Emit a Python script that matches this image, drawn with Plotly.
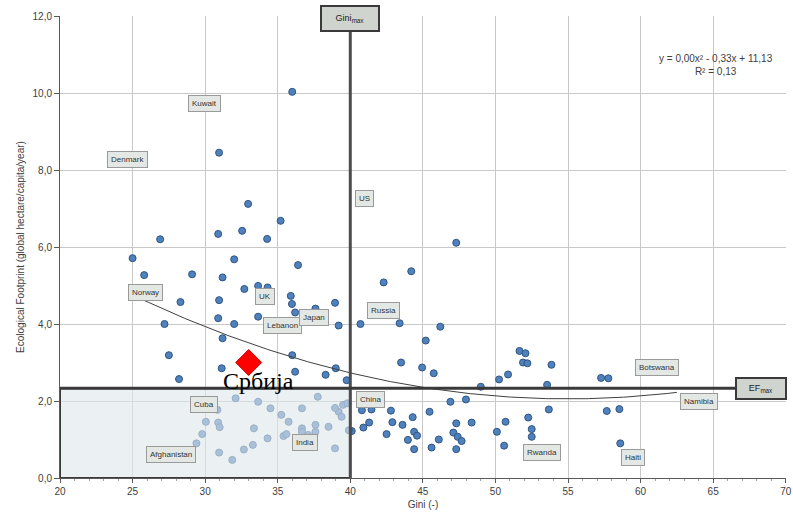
import numpy as np
import plotly.graph_objects as go

# Countries: Gini index vs. ecological footprint (gha/capita/year)
gini = [25.0, 25.8, 26.9, 27.2, 27.5, 28.3, 28.2, 29.1, 30.9, 30.96, 36.0, 32.96, 35.2, 32.55,
        34.27, 32.0, 36.4, 31.2, 32.7, 33.65, 34.3, 35.9, 35.98, 36.2, 38.95, 37.6, 30.96, 30.9,
        32.0, 33.65, 39.2, 31.2, 47.3, 44.2, 42.3, 40.7, 43.4, 46.2, 45.2, 43.5, 44.95, 45.75,
        51.66, 52.07, 51.9, 52.2, 53.86, 50.87, 50.25, 53.56, 57.28, 57.78, 53.68, 57.67, 58.54,
        50.7, 52.26, 52.5, 52.5, 50.6, 50.1, 58.6, 39.75, 48.99, 46.9, 47.97, 40.8, 41.46, 42.8,
        45.46, 40.1, 40.9, 41.3, 42.5, 42.9, 43.6, 44.3, 44.4, 44.6, 43.97, 44.4, 45.6, 46.1,
        47.3, 47.1, 47.4, 47.67, 47.3, 48.36, 31.14, 36.0, 36.2, 38.3, 39.0, 32.1, 33.65, 34.5,
        35.25, 35.75, 36.67, 37.76, 39.5, 39.2, 39.4, 38.5, 37.6, 36.67, 37.1, 35.4, 34.3, 33.36,
        33.29, 32.67, 31.87, 30.96, 30.9, 31.0, 30.05, 29.8, 29.4, 30.85, 38.95, 39.8, 38.95,
        37.6, 36.67, 35.6, 39.9]
footprint = [5.71, 5.27, 6.2, 4.0, 3.19, 4.57, 2.57, 5.29, 6.34, 8.45, 10.03, 7.12, 6.68, 6.42,
             6.21, 5.68, 5.53, 5.21, 4.91, 4.99, 4.95, 4.73, 4.52, 4.30, 4.55, 4.4, 4.62, 4.15,
             4.0, 4.19, 3.96, 3.63, 6.11, 5.37, 5.08, 4.0, 4.02, 3.93, 3.57, 3.0, 2.87, 2.72,
             3.30, 3.24, 3.0, 2.98, 2.94, 2.69, 2.56, 2.42, 2.60, 2.59, 1.78, 1.74, 1.79,
             1.46, 1.57, 1.27, 1.07, 0.84, 1.2, 0.9, 2.54, 2.37, 1.98, 2.04, 1.76, 1.78, 1.75,
             1.72, 1.22, 1.31, 1.44, 1.14, 1.45, 1.38, 1.58, 1.2, 1.10, 0.99, 0.75, 0.79, 1.0,
             1.42, 1.18, 1.07, 0.96, 0.75, 1.44, 2.85, 3.19, 2.76, 2.68, 2.85, 2.07, 1.98, 1.81,
             1.64, 1.46, 1.81, 2.11, 1.9, 1.72, 1.59, 1.33, 1.38, 1.29, 1.12, 1.09, 1.03, 1.29,
             0.86, 0.74, 0.47, 0.66, 1.44, 1.32, 1.46, 1.14, 0.9, 1.77, 0.77, 1.94, 1.82,
             1.2, 1.2, 1.14, 1.24]

serbia_name = "Србија"
serbia_gini = 33.0
serbia_ef = 3.0

# Thresholds
gini_max = 40.0
ef_max = 2.33

# Quadratic trend (coefficients of the fitted trendline)
trend_a, trend_b, trend_c = 0.003, -0.33, 11.13
trend_range = (25.8, 62.5)
equation_text = "y = 0,00x² - 0,33x + 11,13<br>R² = 0,13"

# Labelled countries
label_names = ["Denmark", "Kuwait", "US", "Norway", "UK", "Lebanon", "Japan", "Russia",
               "Botswana", "Namibia", "Cuba", "China", "Afghanistan", "India", "Rwanda", "Haiti"]
label_x = [24.66, 29.93, 40.96, 25.9, 34.1, 35.34, 37.47, 42.26,
           61.16, 64.04, 29.93, 41.37, 27.67, 36.85, 53.2, 59.45]
label_y = [8.26, 9.73, 7.25, 4.83, 4.72, 3.95, 4.18, 4.36,
           2.86, 2.0, 1.92, 2.03, 0.6, 0.91, 0.67, 0.52]

x_ticks = [20, 25, 30, 35, 40, 45, 50, 55, 60, 65, 70]
y_ticks = [0, 2, 4, 6, 8, 10, 12]
y_ticklabels = [f"{v:.1f}".replace(".", ",") for v in y_ticks]

FONT = "Liberation Sans"
AXIS_COLOR = "#595959"
GRID_COLOR = "#c9c9c9"

fig = go.Figure()

fig.add_trace(go.Scatter(
    x=gini, y=footprint, mode="markers",
    marker=dict(size=7, color="#4f81bd", line=dict(color="#2f5583", width=1)),
    hoverinfo="x+y", showlegend=False))

tx = np.linspace(trend_range[0], trend_range[1], 200)
ty = trend_a * tx ** 2 + trend_b * tx + trend_c
fig.add_trace(go.Scatter(x=tx, y=ty, mode="lines",
                         line=dict(color="#404040", width=1), showlegend=False,
                         hoverinfo="skip"))

fig.add_trace(go.Scatter(
    x=[serbia_gini], y=[serbia_ef], mode="markers",
    marker=dict(symbol="diamond", size=20, color="#ff0000", line=dict(color="#cc0000", width=1)),
    showlegend=False))

# Zone below both thresholds
fig.add_shape(type="rect", x0=20, x1=gini_max, y0=0, y1=ef_max, xref="x", yref="y",
              fillcolor="rgba(222,230,236,0.62)", line=dict(color="#3a3a3a", width=2),
              layer="above")
# Gini max line
fig.add_shape(type="line", x0=gini_max, x1=gini_max, y0=0, y1=1.02, xref="x", yref="paper",
              line=dict(color="#4d4d4d", width=3), layer="above")
# EF max line, running out to its label box at the right
fig.add_shape(type="line", x0=0, x1=0.965, y0=ef_max, y1=ef_max, xref="paper", yref="y",
              line=dict(color="#3a3a3a", width=3), layer="above")

annotations = []
for name, lx, ly in zip(label_names, label_x, label_y):
    annotations.append(dict(
        x=lx, y=ly, xref="x", yref="y", text=name, showarrow=False,
        font=dict(family=FONT, size=8, color="#333333"),
        bgcolor="#e4e8e4", bordercolor="#9a9a9a", borderwidth=1, borderpad=3))

annotations.append(dict(
    x=gini_max, y=(478 - 19) / 462, xref="x", yref="paper", text="Gini<sub>max</sub>",
    showarrow=False, font=dict(family=FONT, size=9, color="#222222"),
    xanchor="center", yanchor="middle", width=54, height=21,
    bgcolor="#cfd4cf", bordercolor="#3a3a3a", borderwidth=2, borderpad=1))
annotations.append(dict(
    x=0.965, y=ef_max, xref="paper", yref="y", text="EF<sub>max</sub>",
    showarrow=False, font=dict(family=FONT, size=9, color="#222222"),
    xanchor="center", yanchor="middle", width=46, height=17,
    bgcolor="#cfd4cf", bordercolor="#3a3a3a", borderwidth=2, borderpad=1))
annotations.append(dict(
    x=serbia_gini + 0.7, y=serbia_ef - 0.47, xref="x", yref="y", text=serbia_name,
    showarrow=False, font=dict(family="Liberation Serif", size=24, color="#000000")))
annotations.append(dict(
    x=65.2, y=10.73, xref="x", yref="y", text=equation_text, showarrow=False,
    align="center", font=dict(family=FONT, size=10, color="#404040")))

fig.update_layout(
    width=793, height=519,
    margin=dict(l=60, r=7, t=16, b=41),
    paper_bgcolor="white", plot_bgcolor="white",
    font=dict(family=FONT, size=10, color="#404040"),
    annotations=annotations,
    xaxis=dict(range=[20, 70.02], tickvals=x_ticks, ticktext=[str(v) for v in x_ticks],
               showgrid=True, gridcolor=GRID_COLOR, gridwidth=1,
               showline=True, linecolor=AXIS_COLOR, linewidth=1,
               ticks="outside", ticklen=4, tickcolor=AXIS_COLOR,
               ticklabeloverflow="allow", automargin=False,
               minor=dict(dtick=1, ticks="outside", ticklen=2, tickcolor="#a0a0a0", showgrid=False),
               zeroline=False, tickfont=dict(size=10, color="#404040"),
               title=dict(text="Gini (-)", font=dict(size=10, color="#404040"), standoff=4)),
    yaxis=dict(range=[0, 12], tickvals=y_ticks, ticktext=y_ticklabels,
               showgrid=True, gridcolor=GRID_COLOR, gridwidth=1,
               showline=True, linecolor=AXIS_COLOR, linewidth=1,
               ticks="outside", ticklen=5, tickcolor=AXIS_COLOR,
               zeroline=False, tickfont=dict(size=10, color="#404040"),
               title=dict(text="Ecological Footprint (global hectare/capita/year)",
                          font=dict(size=10, color="#404040"), standoff=6)),
)

fig.write_html("out.html")
